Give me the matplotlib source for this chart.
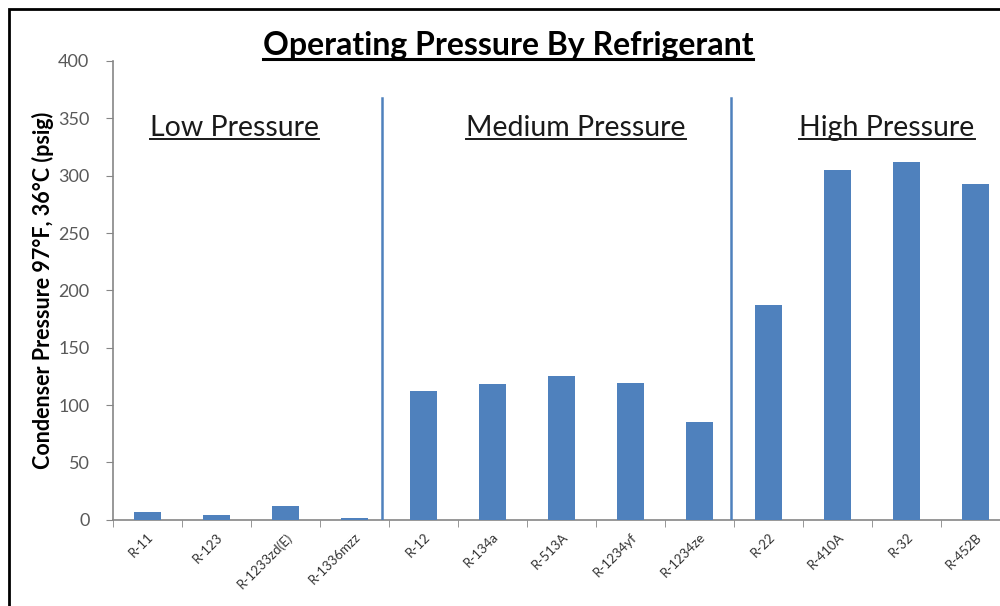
import matplotlib
matplotlib.use("Agg")
import matplotlib.pyplot as plt
from matplotlib.lines import Line2D
from matplotlib.patches import Rectangle

refrigerants = ["R-11", "R-123", "R-1233zd(E)", "R-1336mzz",
                "R-12", "R-134a", "R-513A", "R-1234yf", "R-1234ze",
                "R-22", "R-410A", "R-32", "R-452B"]
pressures = [6.5, 4.2, 12.3, 1.3,
             112, 118, 125, 119, 85,
             187, 305, 312, 293]
group_names = ["Low Pressure", "Medium Pressure", "High Pressure"]
y_ticks = [0, 50, 100, 150, 200, 250, 300, 350, 400]

FONT = ["Lato", "DejaVu Sans"]
plt.rcParams['font.family'] = FONT

W, H = 1000, 606
fig = plt.figure(figsize=(W / 100, H / 100), dpi=100)
ax = fig.add_axes([113 / W, 1 - 519.8 / H, 897 / W, (519.8 - 61) / H])

x = list(range(len(refrigerants)))
ax.bar(x, pressures, width=0.4, color="#4F81BD", zorder=3)
ax.set_xlim(-0.5, len(refrigerants) - 0.5)
ax.set_ylim(0, 400)
ax.set_yticks(y_ticks)
ax.set_yticklabels([str(v) for v in y_ticks], fontsize=13, color="#595959")

ax.set_xticks(x)
ax.set_xticklabels(refrigerants, rotation=45, ha="right", rotation_mode="anchor",
                   fontsize=9.5, color="#333333")
ax.tick_params(axis="x", which="major", length=0, pad=8)
ax.set_xticks([i - 0.5 for i in range(len(refrigerants) + 1)], minor=True)
ax.tick_params(axis="x", which="minor", length=5, color="#868686", direction="out")
ax.tick_params(axis="y", length=5, color="#868686", direction="out", pad=12)

for s in ["top", "right"]:
    ax.spines[s].set_visible(False)
for s in ["left", "bottom"]:
    ax.spines[s].set_color("#868686")
    ax.spines[s].set_linewidth(1.2)

# group dividers
for xd in [3.394, 8.457]:
    ax.plot([xd, xd], [0, 368], color="#4F81BD", lw=1.8, zorder=4)

ax.set_ylabel("Condenser Pressure 97°F, 36°C (psig)", fontsize=15.5,
              fontweight="bold", color="black", va="center")
ax.yaxis.set_label_coords((43 - 113) / 897, (519.8 - 290) / (519.8 - 61))

texts = []
t = fig.text(508 / W, 1 - 46 / H, "Operating Pressure By Refrigerant", fontsize=23,
             fontweight="bold", ha="center", va="center", color="black")
texts.append((t, 2.2))
for name, cx in zip(group_names, [234, 576, 887]):
    t = fig.text(cx / W, 1 - 128 / H, name, fontsize=20.5, ha="center", va="center",
                 color="#1a1a1a")
    texts.append((t, 1.4))

fig.canvas.draw()
renderer = fig.canvas.get_renderer()
for t, lw in texts:
    bb = t.get_window_extent(renderer)
    yline = bb.y0 + 2
    fig.add_artist(Line2D([bb.x0 / W, bb.x1 / W], [yline / H, yline / H],
                          transform=fig.transFigure, color=t.get_color(), lw=lw))

# outer frame (cropped at right / bottom)
fig.add_artist(Rectangle((9 / W, -0.1), 1.2, 1 - 8.5 / H + 0.1,
                         transform=fig.transFigure, fill=False,
                         edgecolor="black", lw=2))

fig.savefig("out.png", dpi=100)
